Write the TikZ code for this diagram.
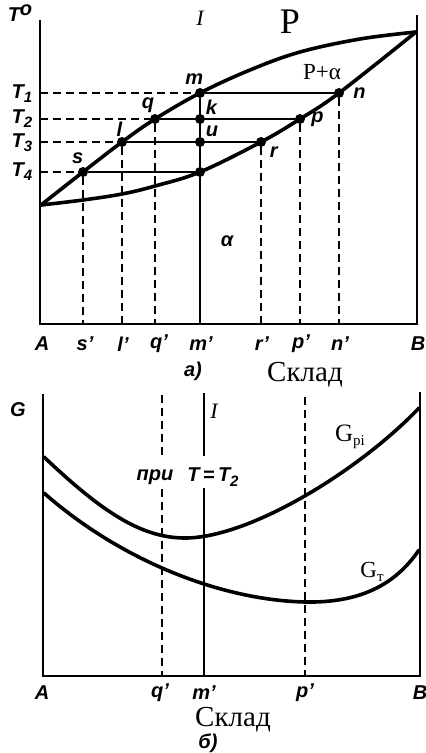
\documentclass[tikz,border=0pt]{standalone}
\usepackage{fontspec}
\setmainfont{Liberation Serif}
\setsansfont{Liberation Sans}
\usetikzlibrary{positioning}

\newcommand{\dn}[1]{\raisebox{-0.4ex}{\fontsize{15}{15}\selectfont #1}}

\tikzset{
  axis/.style={line width=2.4pt},
  curve/.style={line width=3.6pt, line join=round, line cap=round},
  tie/.style={line width=1.7pt},
  guide/.style={line width=1.8pt, dash pattern=on 8pt off 5pt},
  dot/.style={circle, fill, inner sep=0pt, minimum size=10pt},
  lbl/.style={font=\fontsize{20}{20}\sffamily\bfseries\itshape, inner sep=1pt},
  big/.style={font=\fontsize{29}{29}\selectfont, inner sep=1pt}
}

\begin{document}
\begin{tikzpicture}[x=1pt, y=-1pt]
\useasboundingbox (0,0) rectangle (426,753);

% a) phase diagram
\coordinate (yax) at (40,0);
\coordinate (xax) at (0,324);
\draw[axis] (40,20) -- (40,324) -- (417,324) -- (417,15);
\draw[curve] plot[smooth, tension=0.6] coordinates {(41,205) (83,172) (122,142)
  (155,119) (200,93) (250,70) (300,52) (360,39) (416,32)};
\draw[curve] plot[smooth, tension=0.6] coordinates {(41,205) (83,200) (122,194)
  (155,186) (200,172) (261,142) (300,119) (339,93) (416,32)};

\node[dot] (m) at (200,93) {};
\node[dot] (k) at (200,119) {};
\node[dot] (u) at (200,142) {};
\node[dot] (t4) at (200,172) {};
\node[dot] (s) at (83,172) {};
\node[dot] (l) at (122,142) {};
\node[dot] (q) at (155,119) {};
\node[dot] (r) at (261,142) {};
\node[dot] (p) at (300,119) {};
\node[dot] (n) at (339,93) {};

\foreach \a/\b in {m/n, q/p, l/r, s/t4} {
  \draw[guide] (\a -| yax) -- (\a);
  \draw[tie] (\a) -- (\b);
}
\draw[tie] (m) -- (m |- xax);
\foreach \a in {s, l, q, r, p, n}
  \draw[guide] (\a) -- (\a |- xax);

\node[lbl] at (20,13) {T\raisebox{0.6ex}{o}};
\node[lbl] at (22,94) {T\dn{1}};
\node[lbl] at (22,119) {T\dn{2}};
\node[lbl] at (22,143) {T\dn{3}};
\node[lbl] at (22,172) {T\dn{4}};
\node[lbl, font=\fontsize{22}{22}\itshape] at (200,18) {I};
\node[font=\fontsize{36}{36}\selectfont] at (290,22) {Р};
\node[font=\fontsize{23}{23}\selectfont] at (322,72) {Р+α};
\node[lbl, above left=4pt and -8pt of m] {m};
\node[lbl, above left=1pt and -4pt of q] {q};
\node[lbl, above right=0pt and 1pt of k] {k};
\node[lbl, above right=0pt and 1pt of u] {u};
\node[lbl, above left=1pt and -5pt of l] {l};
\node[lbl, above left=3pt and -5pt of s] {s};
\node[lbl, right=8pt of n] {n};
\node[lbl, right=5pt of p] {p};
\node[lbl, below right=0pt and 4pt of r] {r};
\node[lbl] at (227,241) {α};

\foreach \x/\t in {42/A, 85/s', 123/l', 159/q', 201/m', 262/r', 301/p', 340/n', 418/B}
  \node[lbl] at (\x,344) {\t};
\node[lbl] at (193,371) {а)};
\node[big] at (305,375) {Склад};

% б) free energy curves
\draw[axis] (43,394) -- (43,676) -- (420,676) -- (420,392);
\draw[guide] (162,395) -- (162,457);
\draw[guide] (162,489) -- (162 ,676);
\draw[tie] (204,393) -- (204,456);
\draw[tie] (204,488) -- (204,676);
\draw[guide] (305,397) -- (305,676);
\draw[curve] (44,457) .. controls (100,510) and (140,538) .. (185,538)
  .. controls (250,538) and (360,470) .. (419,408);
\draw[curve] (44,493) .. controls (120,560) and (220,600) .. (305,602)
  .. controls (360,603) and (395,585) .. (419,550);

\node[lbl] at (18,410) {G};
\node[lbl, font=\fontsize{22}{22}\itshape] at (214,411) {I};
\node[lbl] at (155,477) {при};
\node[lbl] at (213,477) {T\,=\,T\dn{2}};
\node[font=\fontsize{25}{25}\selectfont] at (350,437) {G\dn{рі}};
\node[font=\fontsize{23}{23}\selectfont] at (372,572) {G\dn{т}};
\foreach \x/\t in {42/A, 160/q', 204/m', 305/p', 420/B}
  \node[lbl] at (\x,693) {\t};
\node[big] at (233,720) {Склад};
\node[lbl] at (208,743) {б)};
\end{tikzpicture}
\end{document}
